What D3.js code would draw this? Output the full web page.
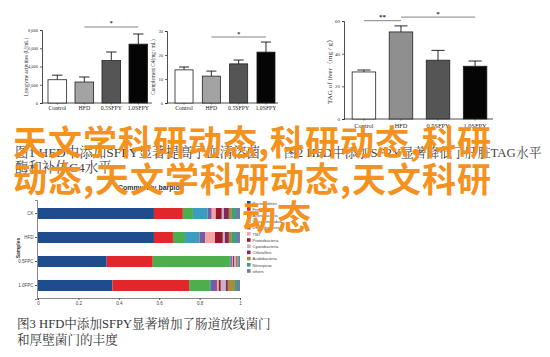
<!DOCTYPE html>
<html><head><meta charset="utf-8">
<script src="https://cdn.jsdelivr.net/npm/d3@7"></script>
<style>body{margin:0;background:#fff}svg{display:block}</style>
</head><body><svg id="c" width="550" height="357"></svg>
<script>
// ---------- data ----------
const groups = ["Control","HFD","0.5SFPY","1.0SFPY"];
const lysozyme = [2550, 2300, 4650, 6450];
const lysozymeErr = [500, 550, 940, 1110];
const lysozymeTicks = [0, 2000, 4000, 6000, 8000];
const complementC4 = [13.8, 11.2, 16.3, 21.2];
const complementC4Err = [1.2, 2.1, 1.6, 4.2];
const complementC4Ticks = [0, 10, 20, 30];
const tagLiver = [28.8, 53.3, 36.0, 32.3];
const tagLiverErr = [1.2, 3.7, 6.0, 3.2];
const tagLiverTicks = [0, 20, 40, 60];
const sigLysozyme = [{from:"HFD", to:"1.0SFPY", level:8330, label:"*"}];
const sigC4 = [{from:"HFD", to:"1.0SFPY", level:27.5, label:"*"}];
const sigTag = [{from:"Control", to:"HFD", level:60.2, label:"**"},
                {from:"HFD", to:"1.0SFPY", level:62.4, label:"*"}];

const samples = ["CK","HFD","0.5FPC","1.0FPC"];
const phyla = ["Bacteroidetes","Firmicutes","Actinobacteria","Verrucomicrobia","Deferribacteres","TM7",
               "Proteobacteria","Cyanobacteria","Chloroflexi","Acidobacteria","Nitrospirae","others"];
const abundCK   = [0.574,0.143,0.050,0.073,0.020,0.020,0.030,0.010,0.025,0.015,0.020,0.020];
const abundHFD  = [0.574,0.094,0.060,0.072,0.027,0.049,0.039,0.010,0.020,0.015,0.020,0.020];
const abund05   = [0.340,0.228,0.382,0.005,0.005,0.005,0.005,0.012,0.005,0.004,0.004,0.005];
const abund10   = [0.368,0.380,0.103,0.005,0.030,0.009,0.010,0.025,0.010,0.035,0.010,0.015];
const xTicksStack = [0, 0.2, 0.4, 0.6, 0.8, 1];

const captionTopLeft1 = "图1 HFD中添加SFPY显著提高了血清溶菌";
const captionTopLeft2 = "酶和补体C4水平";
const captionTopRight = "图2 HFD中添加SFPY显著降低了肝脏TAG水平";
const captionBottom1 = "图3 HFD中添加SFPY显著增加了肠道放线菌门";
const captionBottom2 = "和厚壁菌门的丰度";
const overlayLines = ["天文学科研动态,科研动态,科研", "动态,天文学科研动态,天文科研", "动态"];

// ---------- styles ----------
const serif = "'Liberation Serif','Noto Serif CJK SC','Noto Sans CJK SC',serif";
const svg = d3.select("#c");
svg.append("rect").attr("width",550).attr("height",357).attr("fill","#fff");

function barChart(o) {
  const g = svg.append("g");
  const x = d3.scaleBand().domain(groups).range([o.x0, o.x1]).paddingInner(o.pi).paddingOuter(o.po);
  const y = d3.scaleLinear().domain([0, o.ticks[o.ticks.length-1]]).range([o.yb, o.yt]);
  const ax = g.append("g").attr("transform", `translate(${o.x0},0)`)
    .call(d3.axisLeft(y).tickValues(o.ticks).tickSize(2).tickPadding(2));
  ax.select(".domain").attr("stroke","#222").attr("stroke-width",0.8);
  ax.selectAll(".tick line").attr("stroke","#222").attr("stroke-width",0.7);
  ax.selectAll("text").attr("font-family",serif).attr("font-size",o.tickFs).attr("fill","#333");
  g.append("line").attr("x1",o.x0).attr("x2",o.xEnd).attr("y1",o.yb).attr("y2",o.yb)
    .attr("stroke","#222").attr("stroke-width",0.8);
  g.selectAll(".xt").data(groups).join("line")
    .attr("x1",d=>x(d)+x.bandwidth()/2).attr("x2",d=>x(d)+x.bandwidth()/2)
    .attr("y1",o.yb).attr("y2",o.yb+1.5).attr("stroke","#222").attr("stroke-width",0.6);
  // error whiskers
  g.selectAll(".err").data(groups).join("line")
    .attr("x1",d=>x(d)+x.bandwidth()/2).attr("x2",d=>x(d)+x.bandwidth()/2)
    .attr("y1",(d,i)=>y(o.values[i])).attr("y2",(d,i)=>y(o.values[i]+o.errs[i]))
    .attr("stroke","#111").attr("stroke-width",0.9);
  g.selectAll(".cap").data(groups).join("line")
    .attr("x1",d=>x(d)+x.bandwidth()*0.22).attr("x2",d=>x(d)+x.bandwidth()*0.78)
    .attr("y1",(d,i)=>y(o.values[i]+o.errs[i])).attr("y2",(d,i)=>y(o.values[i]+o.errs[i]))
    .attr("stroke","#111").attr("stroke-width",0.9);
  g.selectAll(".bar").data(groups).join("rect")
    .attr("x",d=>x(d)).attr("width",x.bandwidth())
    .attr("y",(d,i)=>y(o.values[i])).attr("height",(d,i)=>o.yb-y(o.values[i]))
    .attr("fill",(d,i)=>o.fills[i]).attr("stroke","#222").attr("stroke-width",0.8);
  g.selectAll(".xl").data(groups).join("text")
    .attr("x",d=>x(d)+x.bandwidth()/2).attr("y",o.labelY)
    .attr("text-anchor","middle").attr("font-family",serif).attr("font-size",o.labelFs).attr("fill","#222")
    .text(d=>d);
  g.append("text").attr("transform",`translate(${o.ylabX},${o.ylabY}) rotate(-90)`)
    .attr("text-anchor","middle").attr("font-family",serif).attr("font-size",o.ylabFs).attr("fill","#333")
    .text(o.ylabel);
  o.sig.forEach(s=>{
    const xa = x(s.from)+x.bandwidth()/2, xb = x(s.to)+x.bandwidth()/2;
    g.append("line").attr("x1",xa).attr("x2",xb).attr("y1",y(s.level)).attr("y2",y(s.level))
      .attr("stroke","#777").attr("stroke-width",0.9);
    g.append("text").attr("x",(xa+xb)/2).attr("y",y(s.level)-1.5).attr("text-anchor","middle")
      .attr("font-family",serif).attr("font-size",o.starFs).attr("font-weight","bold").attr("fill","#333").text(s.label);
  });
}

barChart({x0:42, x1:153.6, xEnd:152, pi:0.31, po:0.222, yb:103, yt:30, ticks:lysozymeTicks,
  values:lysozyme, errs:lysozymeErr, fills:["#fff","#a3a3a3","#555","#050505"], tickFs:4.5,
  labelY:109.5, labelFs:5.8, ylabel:"Lysozyme activities (U/mL)", ylabX:28, ylabY:67, ylabFs:5.2,
  sig:sigLysozyme, starFs:6});
barChart({x0:167, x1:283, xEnd:278, pi:0.34, po:0.293, yb:103, yt:31, ticks:complementC4Ticks,
  values:complementC4, errs:complementC4Err, fills:["#fff","#a3a3a3","#555","#050505"], tickFs:4.5,
  labelY:109.5, labelFs:5.8, ylabel:"Complement C4(mg / mL)", ylabX:155, ylabY:67, ylabFs:5.2,
  sig:sigC4, starFs:6});
barChart({x0:344, x1:495, xEnd:493, pi:0.365, po:0.22, yb:119, yt:21, ticks:tagLiverTicks,
  values:tagLiver, errs:tagLiverErr, fills:["#fff","#8f8f8f","#555","#050505"], tickFs:5,
  labelY:127.5, labelFs:6.3, ylabel:"TAG of liver（mg / g）", ylabX:332, ylabY:70, ylabFs:7,
  sig:sigTag, starFs:7});

// ---------- captions ----------
const cap = svg.append("g").attr("font-family",serif);
cap.append("text").attr("x",15).attr("y",157).attr("font-size",13.5).attr("fill","#444").text(captionTopLeft1);
cap.append("text").attr("x",15).attr("y",172).attr("font-size",13.5).attr("fill","#444").text(captionTopLeft2);
cap.append("text").attr("x",284).attr("y",157).attr("font-size",12.8).attr("fill","#444").text(captionTopRight);
cap.append("text").attr("x",17).attr("y",328).attr("font-size",12.6).attr("fill","#333").text(captionBottom1);
cap.append("text").attr("x",17).attr("y",344).attr("font-size",12.6).attr("fill","#333").text(captionBottom2);

// ---------- stacked community barplot ----------
const colors = ["#1f4c8c","#e2272b","#4dae4b","#3c9cc1","#7a5b9f","#f4a4a6",
                "#96182f","#c8b3c6","#7f2a58","#a88b3c","#3aa17e","#6c7ba0"];
const abundBySample = [abundCK, abundHFD, abund05, abund10];
const table = samples.map((s,i)=>{ const r={sample:s}; phyla.forEach((p,j)=>r[p]=abundBySample[i][j]); return r; });
const stacked = d3.stack().keys(phyla)(table);
const sx = d3.scaleLinear().domain([0,1]).range([38,240]);
const sy = d3.scaleBand().domain(samples).range([200,299]).paddingInner(0.54).paddingOuter(0.333);
const sg = svg.append("g");
sg.append("text").attr("x",118).attr("y",190).attr("font-family","'Liberation Sans',Arial,sans-serif")
  .attr("font-size",7).attr("font-weight","bold").attr("fill","#333").text("Community barplot");
stacked.forEach((layer,k)=>{
  sg.selectAll(null).data(layer).join("rect")
    .attr("x",d=>sx(d[0])).attr("width",d=>Math.max(0,sx(d[1])-sx(d[0])))
    .attr("y",d=>sy(d.data.sample)).attr("height",sy.bandwidth()).attr("fill",colors[k]);
});
const sax = sg.append("g").attr("transform","translate(0,298)")
  .call(d3.axisBottom(sx).tickValues(xTicksStack).tickFormat(d3.format("~g")).tickSize(2).tickPadding(1.5));
sax.select(".domain").attr("stroke","#555").attr("stroke-width",0.7);
sax.selectAll(".tick line").attr("stroke","#555");
sax.selectAll("text").attr("font-family","'Liberation Sans',Arial,sans-serif").attr("font-size",4.5).attr("fill","#444");
const say = sg.append("g").attr("transform","translate(37,0)")
  .call(d3.axisLeft(sy).tickSize(2).tickPadding(1.5));
say.select(".domain").attr("stroke","#555").attr("stroke-width",0.7);
say.selectAll(".tick line").attr("stroke","#555");
say.selectAll("text").attr("font-family","'Liberation Sans',Arial,sans-serif").attr("font-size",4.5).attr("fill","#444");
sg.append("text").attr("transform","translate(20,248) rotate(-90)").attr("text-anchor","middle")
  .attr("font-family","'Liberation Sans',Arial,sans-serif").attr("font-size",5).attr("font-weight","bold")
  .attr("fill","#333").text("Samples");
const leg = sg.append("g");
phyla.forEach((p,i)=>{
  leg.append("rect").attr("x",247).attr("y",201+i*6.2).attr("width",3.6).attr("height",3.6).attr("fill",colors[i]);
  leg.append("text").attr("x",252.5).attr("y",204.6+i*6.2).attr("font-family","'Liberation Sans',Arial,sans-serif")
    .attr("font-size",4).attr("fill","#444").text(p);
});

// ---------- orange overlay ----------
const ov = svg.append("g").attr("font-family","'Noto Sans CJK SC','Noto Sans',sans-serif")
  .attr("font-weight","bold").attr("fill","#f5921e").attr("font-size",34);
ov.append("text").attr("x",13).attr("y",155).attr("letter-spacing",1).text(overlayLines[0]);
ov.append("text").attr("x",13).attr("y",192).attr("letter-spacing",1).text(overlayLines[1]);
ov.append("text").attr("x",242).attr("y",230).attr("letter-spacing",1).text(overlayLines[2]);
</script></body></html>
